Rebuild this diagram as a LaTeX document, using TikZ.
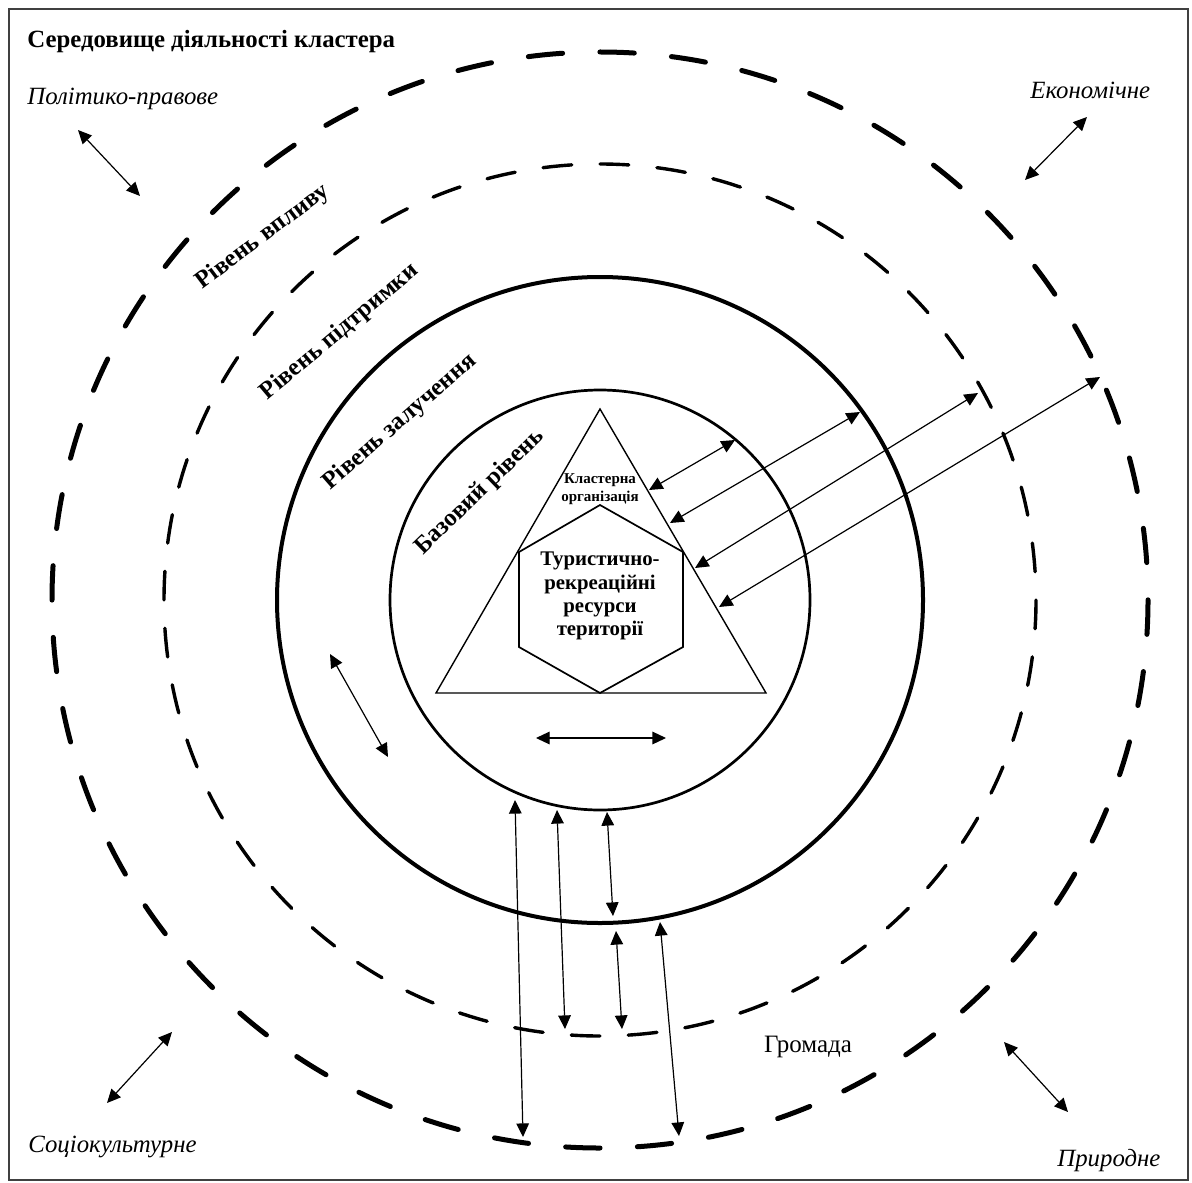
\documentclass[tikz,border=0pt]{standalone}
\usepackage{fontspec}
\setmainfont{Liberation Serif}
\usetikzlibrary{arrows.meta}
\tikzset{
  biarrow/.style={{Triangle[length=6.8pt,width=6.3pt]}-{Triangle[length=6.8pt,width=6.3pt]}, line width=0.6pt},
  outerring/.style={line width=2.5pt, line cap=round, dash pattern=on 17.2pt off 18.67pt},
  midring/.style={line width=1.7pt, line cap=round, dash pattern=on 14.4pt off 14.14pt},
  lvl/.style={font=\bfseries\fontsize{12.3}{14}\selectfont, inner sep=0pt},
  envlabel/.style={font=\itshape\fontsize{12.4}{14}\selectfont, anchor=base west, inner sep=0pt},
}
\begin{document}
\begin{tikzpicture}[x=0.5pt,y=-0.5pt]
\useasboundingbox (0,0) rectangle (1192,1182);
% frame
\draw[line width=1pt, black!75] (9,9.5) rectangle (1188,1180);
% rings
\coordinate (c) at (600,600);
\draw[outerring] (c) circle[radius=548];
\draw[midring] (c) circle[radius=436];
\draw[line width=2pt] (c) circle[radius=323];
\draw[line width=1.35pt] (c) circle[radius=210];
% triangle and hexagon
\draw[line width=0.7pt] (600,409) -- (766,693) -- (436,693) -- cycle;
\draw[line width=0.85pt] (600,505) -- (683,552) -- (683,647) -- (600,693) -- (519,647) -- (519,552) -- cycle;
% texts
\node[anchor=base west, inner sep=0pt, font=\bfseries\fontsize{12.4}{14}\selectfont] (title) at (27,48) {Середовище діяльності кластера};
\node[envlabel] (pp) at (27,105) {Політико-правове};
\node[envlabel] (ek) at (1030,99) {Економічне};
\node[envlabel] (sk) at (28,1152) {Соціокультурне};
\node[envlabel] (pr) at (1057,1166) {Природне};
\node[font=\fontsize{12.5}{14}\selectfont, inner sep=0pt] (gr) at (808,1047) {Громада};
\node[lvl, rotate=37] (l1) at (263,237) {Рівень впливу};
\node[lvl, rotate=40] (l2) at (340,332) {Рівень підтримки};
\node[lvl, rotate=41] (l3) at (400,422) {Рівень залучення};
\node[lvl, rotate=44] (l4) at (480,492) {Базовий рівень};
\node[align=center, inner sep=0pt, font=\bfseries\fontsize{7.5}{9}\selectfont] (cl) at (600,489) {Кластерна\\організація};
\node[align=center, inner sep=0pt, font=\bfseries\fontsize{10.4}{11.6}\selectfont] (res) at (600,596) {Туристично-\\рекреаційні\\ресурси\\території};
% arrow end points
\coordinate (a1s) at (649,490); \coordinate (a1e) at (735,440);
\coordinate (a2s) at (670,523); \coordinate (a2e) at (860,412);
\coordinate (a3s) at (695,568); \coordinate (a3e) at (978,393);
\coordinate (a4s) at (719,607); \coordinate (a4e) at (1100,377);
\coordinate (hs) at (536,738); \coordinate (he) at (666,738);
\coordinate (ls) at (330,654); \coordinate (le) at (388,757);
\coordinate (b1s) at (515,800); \coordinate (b1e) at (523,1137);
\coordinate (b2s) at (557,810); \coordinate (b2e) at (565,1029);
\coordinate (b3s) at (607,812); \coordinate (b3e) at (613,916);
\coordinate (b4s) at (616,931); \coordinate (b4e) at (622,1029);
\coordinate (b5s) at (660,922); \coordinate (b5e) at (679,1136);
\coordinate (pps) at (78,130); \coordinate (ppe) at (140,196);
\coordinate (eks) at (1025,180); \coordinate (eke) at (1087,117);
\coordinate (sks) at (172,1032); \coordinate (ske) at (107,1103);
\coordinate (prs) at (1004,1042); \coordinate (pre) at (1068,1112);
% arrows
\foreach \a in {a1,a2,a3,a4,h,l,b1,b2,b3,b4,b5,pp,ek,sk,pr}
  \draw[biarrow] (\a s) -- (\a e);
\end{tikzpicture}
\end{document}
